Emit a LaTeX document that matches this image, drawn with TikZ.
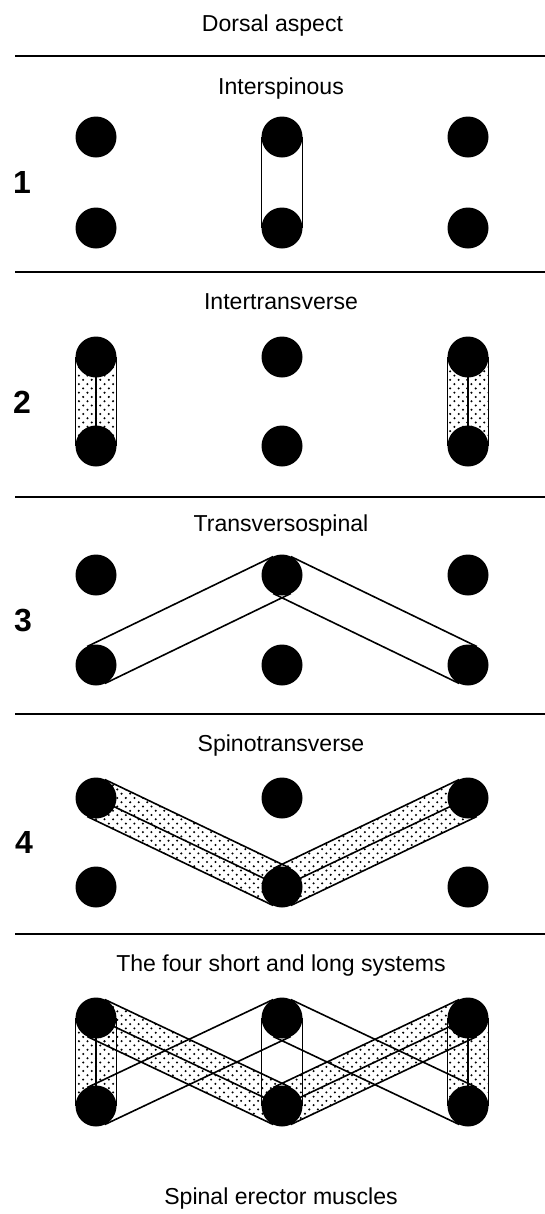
\documentclass[tikz,border=0pt]{standalone}
\usepackage{fontspec}
\setmainfont{Liberation Sans}
\usetikzlibrary{calc,patterns,backgrounds}
\pgfdeclarepatternformonly{stipple}{\pgfqpoint{-1pt}{-1pt}}{\pgfqpoint{7pt}{7pt}}{\pgfqpoint{6.4pt}{6.4pt}}{%
  \pgfpathcircle{\pgfqpoint{1.6pt}{1.6pt}}{0.85pt}%
  \pgfpathcircle{\pgfqpoint{4.8pt}{4.8pt}}{0.85pt}%
  \pgfusepath{fill}}
\newcommand\Rad{15.375pt}
\newcommand\bandfill[2]{\fill[pattern=stipple] ($(#1)!\Rad!90:(#2)$) -- ($(#2)!\Rad!-90:(#1)$) -- ($(#2)!\Rad!90:(#1)$) -- ($(#1)!\Rad!-90:(#2)$) -- cycle;}
\newcommand\bandlines[2]{\draw[edge] ($(#1)!\Rad!90:(#2)$) -- ($(#2)!\Rad!-90:(#1)$) ($(#2)!\Rad!90:(#1)$) -- ($(#1)!\Rad!-90:(#2)$);}
\newcommand\midline[2]{\draw[edge] (#1.center) -- (#2.center);}
\begin{document}
\begin{tikzpicture}[x=0.75pt,y=-0.75pt,
  dot/.style={circle,fill=black,inner sep=0pt,minimum size=30.75pt},
  title/.style={anchor=base,inner sep=0pt,font=\fontsize{17.3pt}{20pt}\selectfont},
  num/.style={inner sep=0pt,font=\fontsize{24pt}{26pt}\selectfont\bfseries},
  rule/.style={line width=1.5pt},
  edge/.style={line width=1.2pt}]
\useasboundingbox (0,0) rectangle (545,1214);

% titles
\node[title] (tdorsal) at (272.5,31) {Dorsal aspect};
\node[title] (t1) at (281,94) {Interspinous};
\node[title] (t2) at (281,309) {Intertransverse};
\node[title] (t3) at (281,531) {Transversospinal};
\node[title] (t4) at (281,751) {Spinotransverse};
\node[title] (t5) at (281,971) {The four short and long systems};
\node[title] (tsp) at (281,1204) {Spinal erector muscles};

% numbers
\node[num] (n1) at (22,182) {1};
\node[num] (n2) at (22,402) {2};
\node[num] (n3) at (23,620) {3};
\node[num] (n4) at (24,842) {4};

% rules
\coordinate (r0a) at (15,56);  \coordinate (r0b) at (545,56);
\coordinate (r1a) at (15,272); \coordinate (r1b) at (545,272);
\coordinate (r2a) at (15,497); \coordinate (r2b) at (545,497);
\coordinate (r3a) at (15,714); \coordinate (r3b) at (545,714);
\coordinate (r4a) at (15,934); \coordinate (r4b) at (545,934);
\draw[rule] (r0a) -- (r0b) (r1a) -- (r1b) (r2a) -- (r2b) (r3a) -- (r3b) (r4a) -- (r4b);

% dots: panel k, l/m/r column, t/b row
\foreach \p/\yt/\yb in {1/137/228,2/357/446,3/575/665,4/798/887,5/1018/1106}{
  \node[dot] (p\p lt) at (96,\yt) {};
  \node[dot] (p\p lb) at (96,\yb) {};
  \node[dot] (p\p mt) at (282,\yt) {};
  \node[dot] (p\p mb) at (282,\yb) {};
  \node[dot] (p\p rt) at (468,\yt) {};
  \node[dot] (p\p rb) at (468,\yb) {};
}

\begin{scope}[on background layer]
  % panel 1: interspinous
  \bandlines{p1mt}{p1mb}
  % panel 2: intertransverse
  \bandfill{p2lt}{p2lb} \bandfill{p2rt}{p2rb}
  \bandlines{p2lt}{p2lb} \bandlines{p2rt}{p2rb}
  \midline{p2lt}{p2lb} \midline{p2rt}{p2rb}
  % panel 3: transversospinal
  \bandlines{p3lb}{p3mt} \bandlines{p3mt}{p3rb}
  % panel 4: spinotransverse
  \bandfill{p4lt}{p4mb} \bandfill{p4mb}{p4rt}
  \bandlines{p4lt}{p4mb} \bandlines{p4mb}{p4rt}
  \midline{p4lt}{p4mb} \midline{p4mb}{p4rt}
  % panel 5: all four systems
  \bandfill{p5lt}{p5lb} \bandfill{p5rt}{p5rb}
  \bandfill{p5lt}{p5mb} \bandfill{p5mb}{p5rt}
  \bandlines{p5lt}{p5lb} \bandlines{p5rt}{p5rb}
  \midline{p5lt}{p5lb} \midline{p5rt}{p5rb}
  \bandlines{p5lt}{p5mb} \bandlines{p5mb}{p5rt}
  \midline{p5lt}{p5mb} \midline{p5mb}{p5rt}
  \bandlines{p5mt}{p5mb}
  \bandlines{p5lb}{p5mt} \bandlines{p5mt}{p5rb}
\end{scope}
\end{tikzpicture}
\end{document}
